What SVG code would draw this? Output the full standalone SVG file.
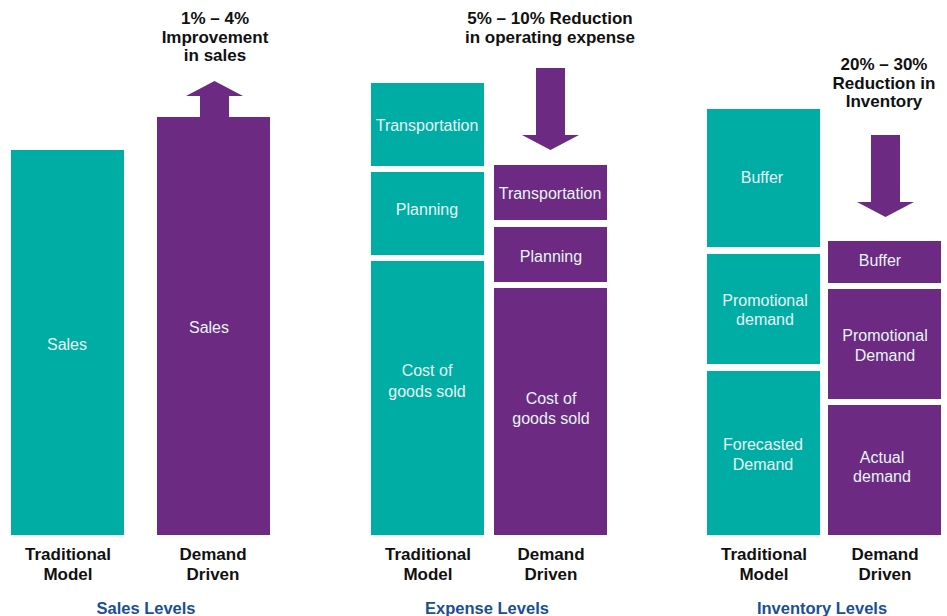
<svg xmlns="http://www.w3.org/2000/svg" width="947" height="616" viewBox="0 0 947 616">
<style>
.t{fill:#00ADA5}
.p{fill:#6C2A82}
.lbl{font-family:"Liberation Sans",Arial,sans-serif;font-size:16px;fill:#E6F4F2;text-anchor:middle}
.hd{font-family:"Liberation Sans",Arial,sans-serif;font-size:17px;font-weight:bold;fill:#111;text-anchor:middle}
.ax{font-family:"Liberation Sans Narrow","Liberation Sans",Arial,sans-serif;font-size:17px;font-weight:bold;fill:#111;text-anchor:middle}
.lv{font-family:"Liberation Sans Narrow","Liberation Sans",Arial,sans-serif;font-size:16.5px;font-weight:bold;fill:#1A4E99;text-anchor:middle}
</style>
<rect width="947" height="616" fill="#fff"/>
<!-- Sales -->
<g id="sales-trad"><rect class="t" x="11" y="150" width="113" height="385"/><text class="lbl" x="67" y="350">Sales</text></g>
<g id="sales-dd"><rect class="p" x="157" y="117" width="113" height="418"/><text class="lbl" x="209" y="333">Sales</text></g>
<!-- Expense -->
<g id="exp-trad-transport"><rect class="t" x="371" y="83" width="113" height="83"/><text class="lbl" x="427" y="131">Transportation</text></g>
<g id="exp-trad-planning"><rect class="t" x="371" y="172" width="113" height="83"/><text class="lbl" x="427" y="215">Planning</text></g>
<g id="exp-trad-cogs"><rect class="t" x="371" y="261" width="113" height="274"/><text class="lbl" x="427" y="376">Cost of</text><text class="lbl" x="427" y="397">goods sold</text></g>
<g id="exp-dd-transport"><rect class="p" x="494" y="165" width="113" height="55"/><text class="lbl" x="550" y="199">Transportation</text></g>
<g id="exp-dd-planning"><rect class="p" x="494" y="227" width="113" height="55"/><text class="lbl" x="551" y="262">Planning</text></g>
<g id="exp-dd-cogs"><rect class="p" x="494" y="288" width="113" height="247"/><text class="lbl" x="551" y="404">Cost of</text><text class="lbl" x="551" y="424">goods sold</text></g>
<!-- Inventory -->
<g id="inv-trad-buffer"><rect class="t" x="707" y="109" width="113" height="138"/><text class="lbl" x="762" y="183">Buffer</text></g>
<g id="inv-trad-promo"><rect class="t" x="707" y="254" width="113" height="110"/><text class="lbl" x="765" y="306">Promotional</text><text class="lbl" x="765" y="325">demand</text></g>
<g id="inv-trad-forecast"><rect class="t" x="707" y="371" width="113" height="164"/><text class="lbl" x="763" y="450">Forecasted</text><text class="lbl" x="763" y="470">Demand</text></g>
<g id="inv-dd-buffer"><rect class="p" x="828" y="241" width="113" height="42"/><text class="lbl" x="880" y="266">Buffer</text></g>
<g id="inv-dd-promo"><rect class="p" x="828" y="289" width="113" height="110"/><text class="lbl" x="885" y="341">Promotional</text><text class="lbl" x="885" y="361">Demand</text></g>
<g id="inv-dd-actual"><rect class="p" x="828" y="405" width="113" height="130"/><text class="lbl" x="882" y="463">Actual</text><text class="lbl" x="882" y="482">demand</text></g>
<!-- Arrows -->
<g id="connectors">
<polygon class="p" points="200,117 200,96 186,96 214.5,81 243,96 229,96 229,117"/>
<polygon class="p" points="536,68 565,68 565,135 579,135 550.5,150 522,135 536,135"/>
<polygon class="p" points="871,135 900,135 900,202 914,202 885.5,217 857,202 871,202"/>
</g>
<!-- Headings -->
<g id="headings">
<text class="hd" x="215" y="24">1% – 4%</text>
<text class="hd" x="215" y="43">Improvement</text>
<text class="hd" x="215" y="61">in sales</text>
<text class="hd" x="550" y="24">5% – 10% Reduction</text>
<text class="hd" x="550" y="43">in operating expense</text>
<text class="hd" x="884" y="70">20% – 30%</text>
<text class="hd" x="884" y="89">Reduction in</text>
<text class="hd" x="884" y="107">Inventory</text>
</g>
<g id="axis-labels">
<text class="ax" x="68" y="560">Traditional</text>
<text class="ax" x="68" y="580">Model</text>
<text class="ax" x="213" y="560">Demand</text>
<text class="ax" x="213" y="580">Driven</text>
<text class="ax" x="428" y="560">Traditional</text>
<text class="ax" x="428" y="580">Model</text>
<text class="ax" x="551" y="560">Demand</text>
<text class="ax" x="551" y="580">Driven</text>
<text class="ax" x="764" y="560">Traditional</text>
<text class="ax" x="764" y="580">Model</text>
<text class="ax" x="885" y="560">Demand</text>
<text class="ax" x="885" y="580">Driven</text>
<text class="lv" x="146" y="614">Sales Levels</text>
<text class="lv" x="487" y="614">Expense Levels</text>
<text class="lv" x="822" y="614">Inventory Levels</text>
</g>
</svg>
